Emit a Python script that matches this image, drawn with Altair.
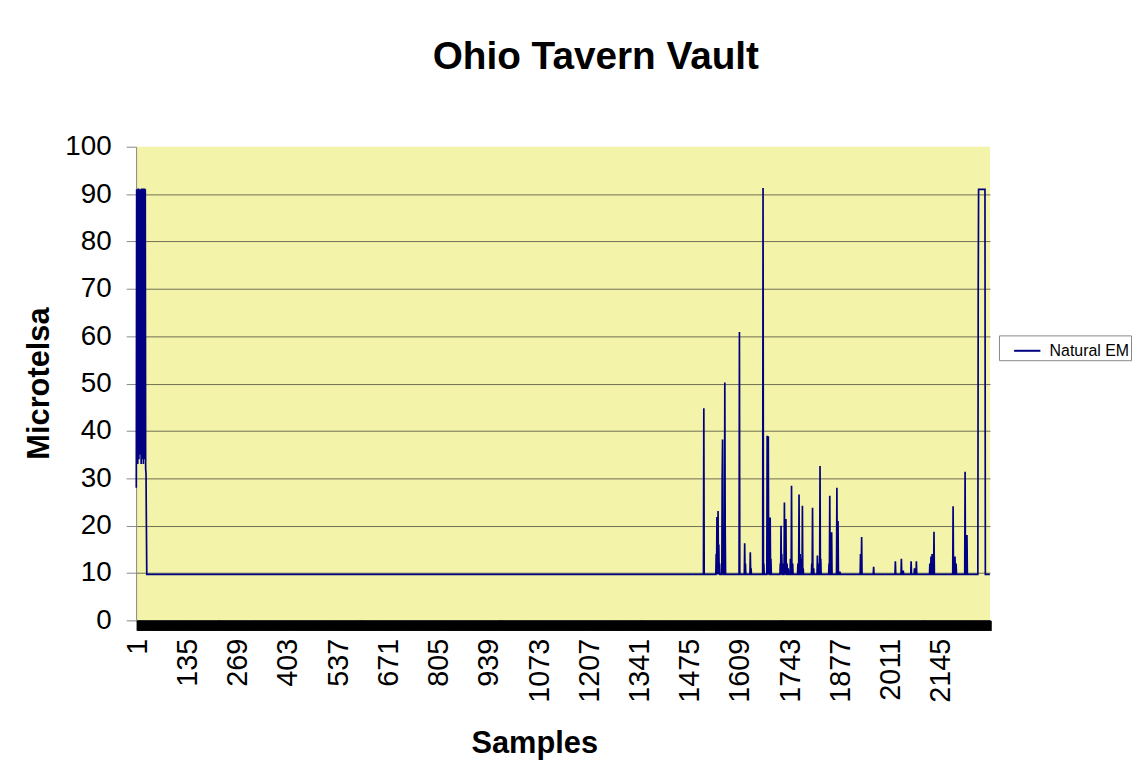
import altair as alt
import pandas as pd

# ---- data ----
N_SAMPLES = 2278
BASE_LEVEL = 9.7

# samples 1..28: dense oscillation at the start
left_block = [28, 91, 34, 91, 33, 91, 91, 34, 91, 35, 91, 75, 91, 33, 91, 91,
              34, 91, 91, 33, 91, 91, 91, 34, 91, 32, 31, 20]

spike_samples = [1515, 1548, 1550, 1551, 1553, 1555, 1557, 1564, 1565, 1567,
                 1571, 1572, 1610, 1624, 1626, 1639, 1641, 1673, 1675, 1684,
                 1685, 1687, 1689, 1692, 1694, 1719, 1721, 1723, 1726, 1730,
                 1732, 1734, 1737, 1740, 1746, 1749, 1752, 1766, 1769, 1772,
                 1775, 1778, 1780, 1803, 1805, 1808, 1818, 1822, 1825, 1827,
                 1849, 1851, 1854, 1856, 1870, 1873, 1878, 1933, 1936, 1968,
                 2026, 2042, 2047, 2068, 2077, 2082, 2118, 2121, 2124, 2129,
                 2180, 2185, 2188, 2212, 2217]
spike_values = [44.8, 14, 21.8, 12, 23.1, 16, 12, 30, 38.2, 14,
                50.2, 20, 60.9, 16.3, 12, 14.4, 11, 91.3, 12, 39,
                30, 38.9, 14, 21.7, 13, 12, 20, 14, 12, 24.9,
                13, 21.4, 12, 11, 13, 28.4, 12, 12, 26.6, 14,
                13, 24.2, 11, 12, 23.8, 11, 13.7, 12, 32.6, 13,
                12, 26.3, 14, 18.6, 28, 21, 10.3, 14, 17.6, 11.3,
                12.5, 13, 10.5, 12.5, 11, 12.5, 12, 13.5, 14, 18.7,
                24.1, 13.5, 12, 31.4, 18]

# plateau near the end
right_block_start = 2247
right_block = [70, 91, 91, 91, 91, 91, 91, 91, 91, 91, 91, 91, 91, 91, 91,
               91, 91, 91, 91]

tick_labels = [1, 135, 269, 403, 537, 671, 805, 939, 1073, 1207, 1341, 1475,
               1609, 1743, 1877, 2011, 2145]
y_ticks = [0, 10, 20, 30, 40, 50, 60, 70, 80, 90, 100]

# ---- build table ----
values = {s: BASE_LEVEL for s in range(1, N_SAMPLES + 1)}
for i, v in enumerate(left_block):
    values[1 + i] = v
for s, v in zip(spike_samples, spike_values):
    values[s] = v
for i, v in enumerate(right_block):
    values[right_block_start + i] = v

df = pd.DataFrame({
    "sample": list(values.keys()),
    "value": list(values.values()),
    "series": "Natural EM",
})

FONT = "Liberation Sans"
label_list = ",".join(str(v) for v in tick_labels)
x_ticks = list(range(1, N_SAMPLES + 1, 2))

chart = alt.Chart(df).mark_line(strokeWidth=1.7).encode(
    x=alt.X(
        "sample:Q",
        scale=alt.Scale(domain=[0.5, N_SAMPLES + 0.5], nice=False, zero=False),
        axis=alt.Axis(
            title="Samples",
            values=x_ticks,
            format="d",
            labelExpr=f"indexof([{label_list}], datum.value) >= 0 ? datum.label : ''",
            labelAngle=270,
            labelFont=FONT,
            labelFontSize=29,
            labelColor="#000000",
            labelPadding=8,
            labelOverlap=False,
            labelBound=False,
            labelFlush=False,
            tickColor="#000000",
            tickSize=10,
            tickWidth=2,
            tickOffset=1,
            domainColor="#000000",
            domainWidth=1,
            grid=False,
            titleFont=FONT,
            titleFontSize=31,
            titleFontWeight="bold",
            titleColor="#000000",
            titleX=401,
            titleY=133,
            titleAlign="center",
            titleBaseline="alphabetic",
        ),
    ),
    y=alt.Y(
        "value:Q",
        scale=alt.Scale(domain=[0, 100], nice=False, zero=True),
        axis=alt.Axis(
            title="Microtelsa",
            values=y_ticks,
            labelFont=FONT,
            labelFontSize=28,
            labelColor="#000000",
            labelPadding=15,
            tickColor="#888888",
            tickSize=10,
            domainColor="#888888",
            gridColor="#6f6f55",
            gridWidth=1,
            gridOpacity={"condition": {"test": "datum.value >= 100", "value": 0}, "value": 1},
            titleFont=FONT,
            titleFontSize=31,
            titleFontWeight="bold",
            titleColor="#000000",
            titleAngle=270,
            titleX=-88,
            titleY=238,
            titleAlign="center",
            titleBaseline="alphabetic",
        ),
    ),
    color=alt.Color(
        "series:N",
        scale=alt.Scale(range=["#000080"]),
        legend=alt.Legend(
            title=None,
            orient="none",
            legendX=869,
            legendY=190,
            fillColor="#ffffff",
            strokeColor="#888888",
            padding=1,
            symbolType="stroke",
            symbolSize=700,
            symbolStrokeWidth=2,
            symbolOffset=13,
            labelFont=FONT,
            labelFontSize=16,
            labelColor="#000000",
            labelOffset=8,
        ),
    ),
).properties(
    width=860,
    height=477,
    autosize=alt.AutoSizeParams(type="none"),
    padding={"left": 129, "top": 137, "right": 146, "bottom": 153},
    background="#ffffff",
    title=alt.TitleParams(
        "Ohio Tavern Vault",
        font=FONT,
        fontSize=39,
        fontWeight="bold",
        color="#000000",
        anchor="middle",
        frame="group",
        dx=33,
        offset=56,
    ),
).configure_view(
    fill="#f4f3aa",
    strokeWidth=0,
)

chart.save("out.html", embed_options={"renderer": "svg", "actions": False})
